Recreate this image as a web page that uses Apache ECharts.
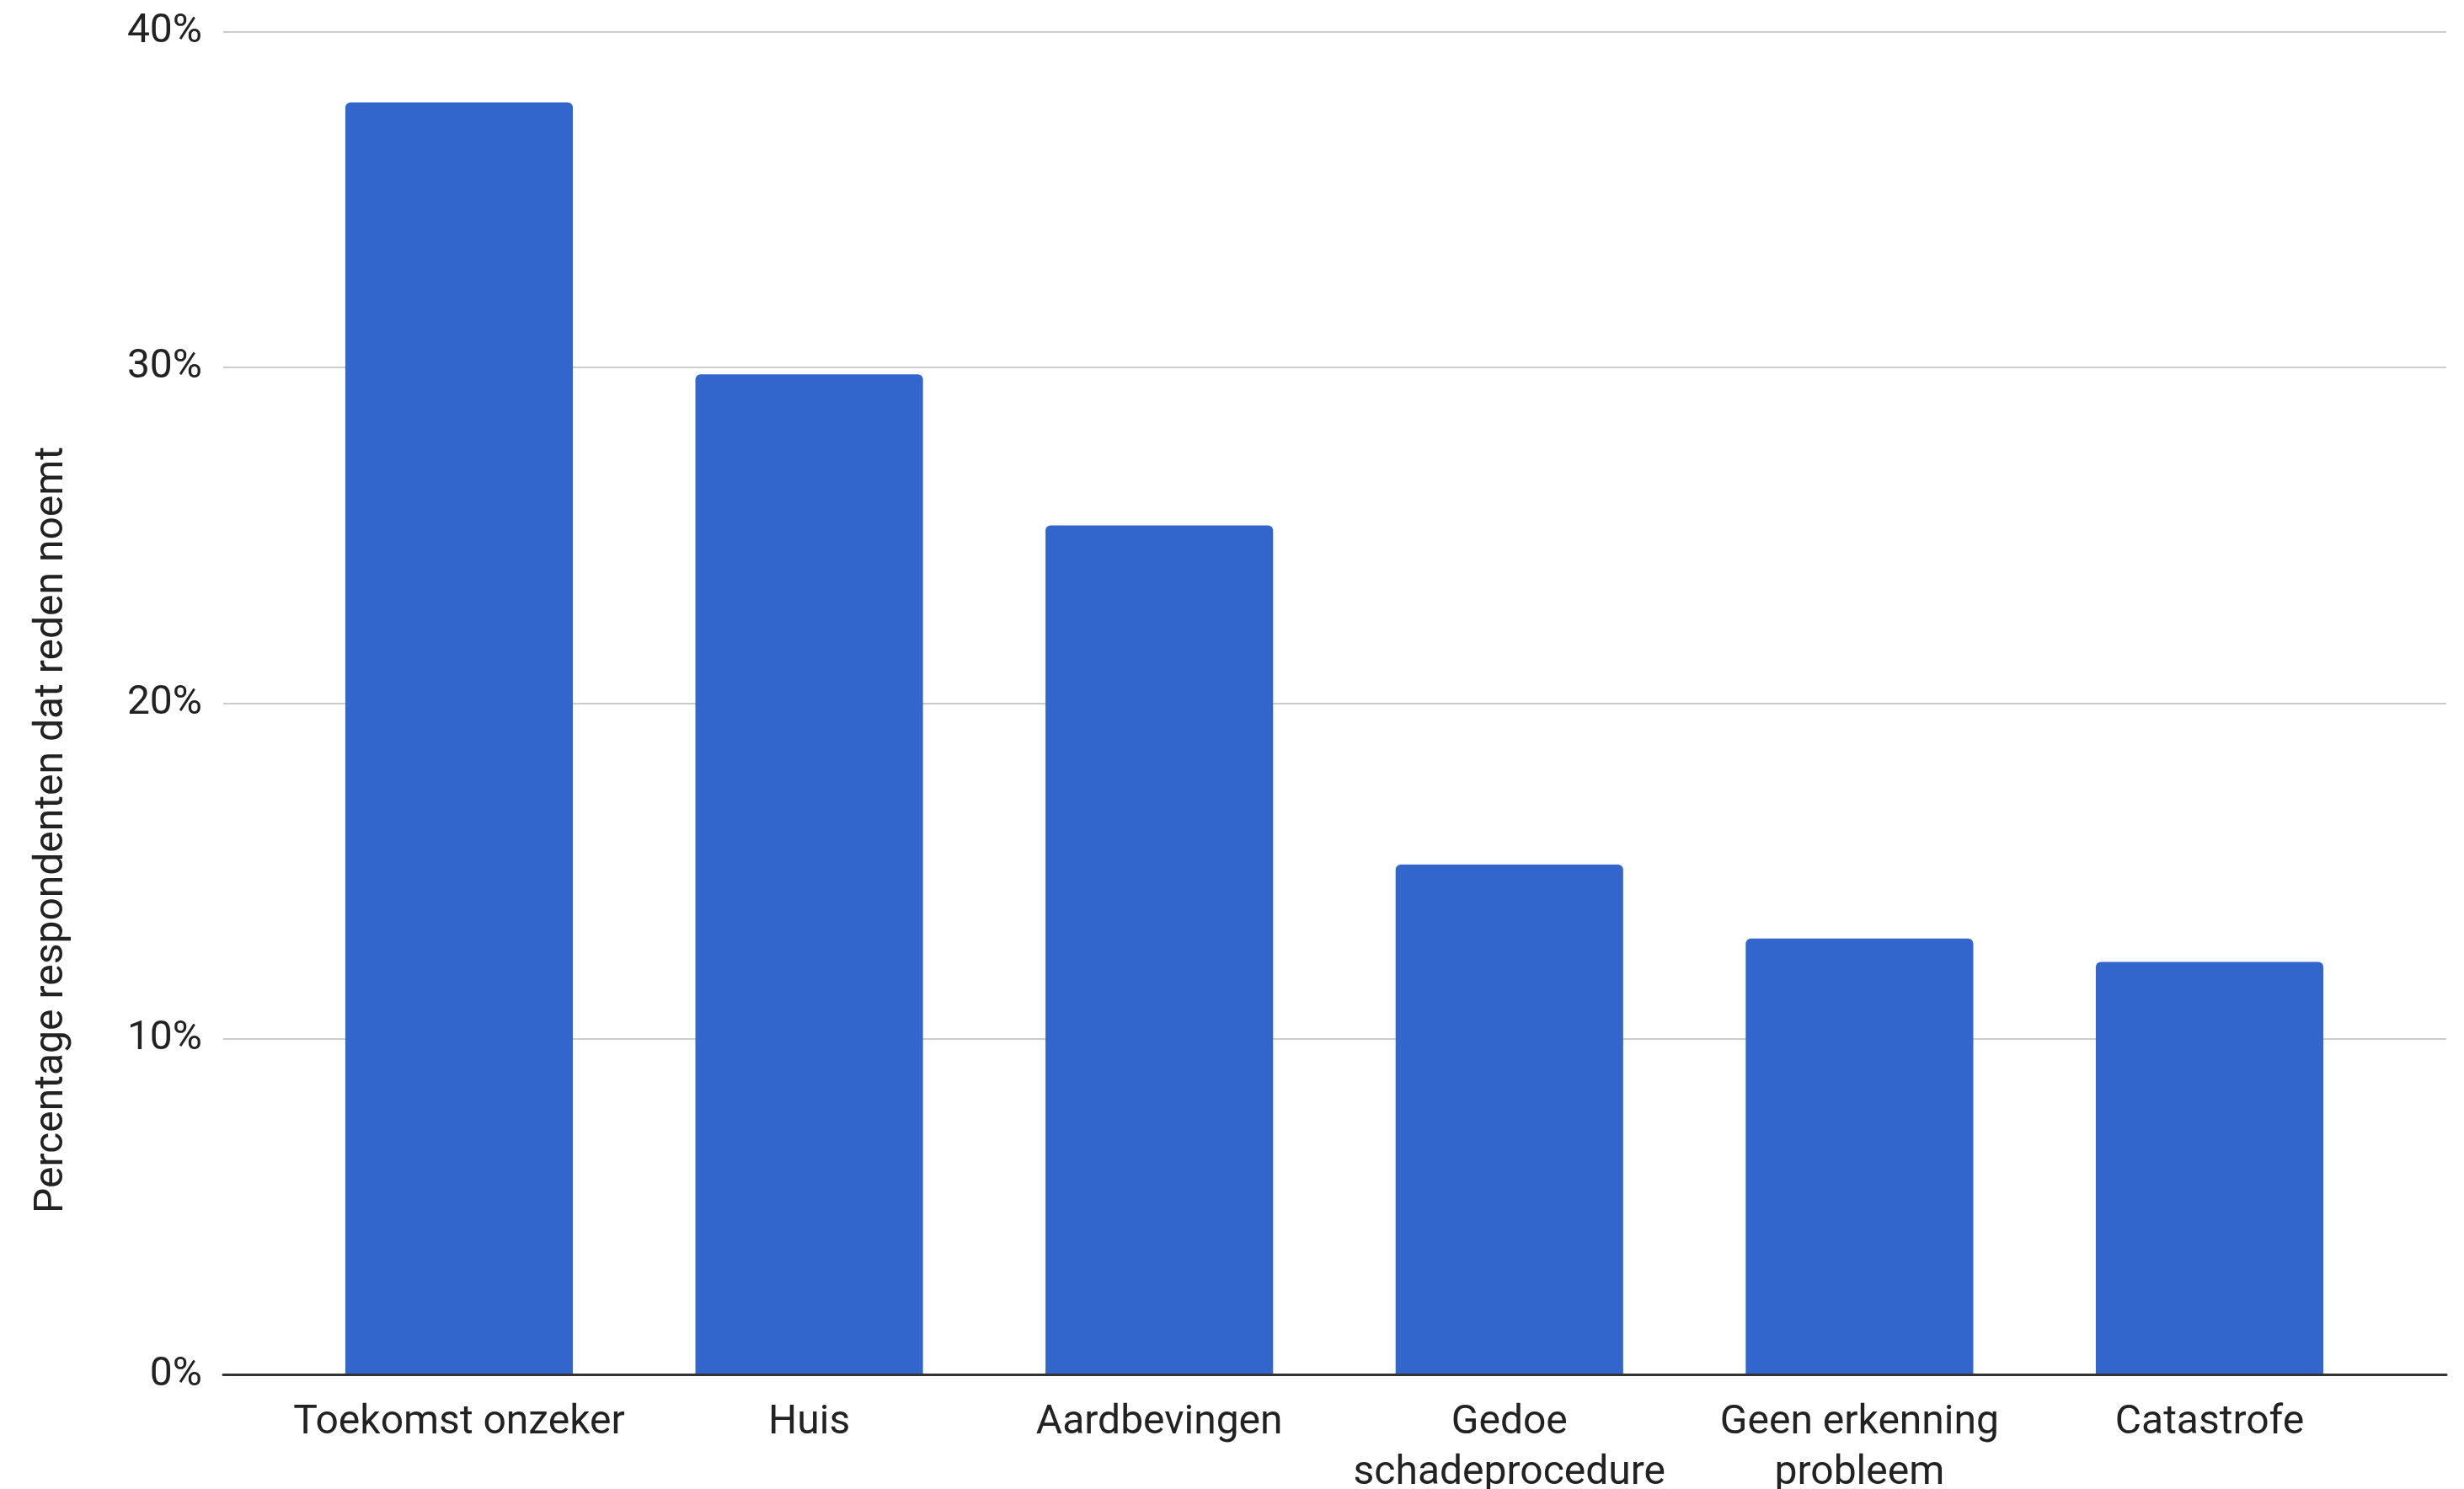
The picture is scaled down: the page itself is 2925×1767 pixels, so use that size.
<!DOCTYPE html>
<html>
<head>
<meta charset="utf-8">
<script src="https://cdn.jsdelivr.net/npm/echarts@6/dist/echarts.min.js"></script>
<style>
html,body{margin:0;padding:0;background:#fff;}
#chart{width:2925px;height:1767px;}
</style>
</head>
<body>
<div id="chart"></div>
<script>
const categories = ["Toekomst onzeker", "Huis", "Aardbevingen", "Gedoe\nschadeprocedure", "Geen erkenning\nprobleem", "Catastrofe"];
const values = [37.9, 29.8, 25.3, 15.2, 13.0, 12.3];
const yTicks = [0, 10, 20, 30, 40];
const yTitle = "Percentage respondenten dat reden noemt";

const FONT = "Roboto";
const chart = echarts.init(document.getElementById('chart'), null, {renderer: 'canvas'});
const gridTop = 37.7, gridBottom = 1767 - 1631.7;
const option = {
  animation: false,
  backgroundColor: '#ffffff',
  textStyle: {fontFamily: FONT},
  grid: [
    {left: 265, right: 21, top: gridTop, bottom: gridBottom, containLabel: false, outerBoundsMode: 'none'},
    {left: 337.2, right: 94.2, top: gridTop, bottom: gridBottom, containLabel: false, outerBoundsMode: 'none'}
  ],
  xAxis: [
    {gridIndex: 0, type: 'value', min: 0, max: 1, z: 10,
     axisLine: {show: true, lineStyle: {color: '#333333', width: 3}},
     axisTick: {show: false}, axisLabel: {show: false}, splitLine: {show: false}},
    {gridIndex: 1, type: 'category', data: categories,
     axisLine: {show: false}, axisTick: {show: false},
     axisLabel: {color: '#222222', fontSize: 48, fontFamily: FONT, margin: 27, lineHeight: 60, interval: 0}}
  ],
  yAxis: [
    {gridIndex: 0, type: 'value', min: yTicks[0], max: yTicks[yTicks.length - 1], interval: 10,
     axisLine: {show: false}, axisTick: {show: false},
     axisLabel: {color: '#222222', fontSize: 48, fontFamily: FONT, margin: 25, formatter: '{value}%'},
     splitLine: {show: true, lineStyle: {color: '#cccccc', width: 2}}},
    {gridIndex: 1, type: 'value', min: yTicks[0], max: yTicks[yTicks.length - 1], interval: 10, show: false,
     splitLine: {show: false}}
  ],
  graphic: [{
    type: 'text', x: 62, y: 985, rotation: Math.PI / 2,
    style: {text: yTitle, font: '48px Roboto', fill: '#222222', textAlign: 'center', textVerticalAlign: 'middle'}
  }],
  series: [{
    type: 'bar', xAxisIndex: 1, yAxisIndex: 1, data: values,
    barWidth: '65%',
    itemStyle: {color: '#3366cc', borderRadius: [6, 6, 0, 0]}
  }]
};
chart.setOption(option);
</script>
</body>
</html>
